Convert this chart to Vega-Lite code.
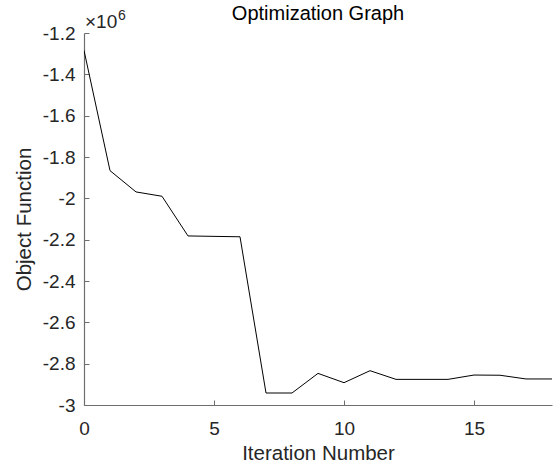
{
  "$schema": "https://vega.github.io/schema/vega-lite/v6.json",
  "width": 468,
  "height": 372,
  "autosize": {"type": "none"},
  "padding": {"left": 84, "top": 33, "right": 6, "bottom": 63},
  "background": "white",
  "title": {
    "text": "Optimization Graph",
    "fontSize": 20,
    "font": "Liberation Sans",
    "fontWeight": "normal",
    "color": "#000000",
    "anchor": "middle",
    "frame": "group",
    "offset": -31,
    "baseline": "alphabetic"
  },
  "config": {
    "view": {"stroke": null},
    "axis": {
      "grid": false,
      "labelFlush": false,
      "domainColor": "#6e6e6e",
      "domainWidth": 1.2,
      "tickColor": "#6e6e6e",
      "tickWidth": 1,
      "tickSize": -5,
      "labelColor": "#262626",
      "labelFont": "Liberation Sans",
      "labelFontSize": 19,
      "titleColor": "#262626",
      "titleFont": "Liberation Sans",
      "titleFontSize": 20.5,
      "titleFontWeight": "normal"
    }
  },
  "data": {
    "values": [
      {"iteration": 0, "objective": -1284000},
      {"iteration": 1, "objective": -1866000},
      {"iteration": 2, "objective": -1969000},
      {"iteration": 3, "objective": -1990000},
      {"iteration": 4, "objective": -2182000},
      {"iteration": 5, "objective": -2184000},
      {"iteration": 6, "objective": -2186000},
      {"iteration": 7, "objective": -2942000},
      {"iteration": 8, "objective": -2942000},
      {"iteration": 9, "objective": -2847000},
      {"iteration": 10, "objective": -2892000},
      {"iteration": 11, "objective": -2834000},
      {"iteration": 12, "objective": -2876000},
      {"iteration": 13, "objective": -2876000},
      {"iteration": 14, "objective": -2876000},
      {"iteration": 15, "objective": -2855000},
      {"iteration": 16, "objective": -2856000},
      {"iteration": 17, "objective": -2874000},
      {"iteration": 18, "objective": -2874000}
    ]
  },
  "layer": [
    {
      "mark": {"type": "line", "color": "#000000", "strokeWidth": 1, "clip": true},
      "encoding": {
        "x": {
          "field": "iteration",
          "type": "quantitative",
          "scale": {"domain": [0, 18], "nice": false, "zero": false},
          "axis": {
            "title": "Iteration Number",
            "values": [0, 5, 10, 15],
            "labelPadding": 19,
            "titlePadding": 5
          }
        },
        "y": {
          "field": "objective",
          "type": "quantitative",
          "scale": {"domain": [-3000000, -1200000], "nice": false, "zero": false},
          "axis": {
            "title": "Object Function",
            "values": [-3000000, -2800000, -2600000, -2400000, -2200000, -2000000, -1800000, -1600000, -1400000, -1200000],
            "labelExpr": "'' + round(datum.value / 100000) / 10",
            "labelPadding": 14,
            "titlePadding": 8
          }
        }
      }
    },
    {
      "data": {"values": [{"label": "×10"}]},
      "mark": {"type": "text", "align": "left", "baseline": "alphabetic", "dx": 1, "dy": -5, "fontSize": 19, "font": "Liberation Sans", "color": "#262626"},
      "encoding": {
        "x": {"datum": 0, "type": "quantitative"},
        "y": {"datum": -1200000, "type": "quantitative"},
        "text": {"field": "label"}
      }
    },
    {
      "data": {"values": [{"label": "6"}]},
      "mark": {"type": "text", "align": "left", "baseline": "alphabetic", "dx": 34, "dy": -13, "fontSize": 14, "font": "Liberation Sans", "color": "#262626"},
      "encoding": {
        "x": {"datum": 0, "type": "quantitative"},
        "y": {"datum": -1200000, "type": "quantitative"},
        "text": {"field": "label"}
      }
    }
  ]
}
